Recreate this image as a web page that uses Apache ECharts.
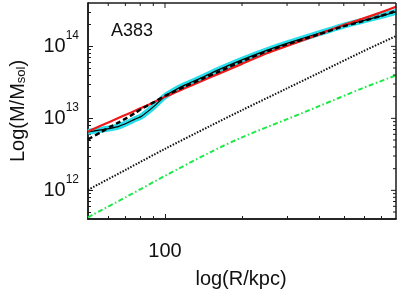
<!DOCTYPE html>
<html><head><meta charset="utf-8">
<script src="https://cdn.jsdelivr.net/npm/echarts@6/dist/echarts.min.js"></script>
<style>html,body{margin:0;padding:0;background:#fff}#c{width:399px;height:298px}</style>
</head><body><div id="c"></div>
<script>
// ---- data (R in kpc, M in solar masses) ----
const obsR  = [50, 56, 61, 66, 71, 76, 81, 91, 100, 110, 120, 140, 160, 200, 250, 300, 400, 490, 590, 690, 800];
const obsM  = [6.49e12, 6.92e12, 7.27e12, 7.74e12, 8.60e12, 9.68e12, 1.073e13, 1.49e13, 2.03e13, 2.50e13, 2.92e13, 3.71e13, 4.64e13, 6.49e13, 8.80e13, 1.10e14, 1.52e14, 1.90e14, 2.26e14, 2.61e14, 3.01e14];
const dashM = [5.11e12, 6.39e12, 7.62e12, 8.80e12, 1.016e13, 1.173e13, 1.355e13, 1.694e13, 2.054e13, 2.41e13, 2.78e13, 3.54e13, 4.35e13, 6.19e13, 8.53e13, 1.066e14, 1.468e14, 1.866e14, 2.22e14, 2.61e14, 3.11e14];
const redM  = [6.59e12, 7.87e12, 9.00e12, 1.016e13, 1.136e13, 1.268e13, 1.404e13, 1.69e13, 1.99e13, 2.30e13, 2.63e13, 3.33e13, 4.08e13, 5.71e13, 8.00e13, 1.016e14, 1.468e14, 1.93e14, 2.41e14, 2.92e14, 3.54e14];
const compR  = [50, 71, 100, 150, 200, 300, 400, 590, 800];
const dotM   = [1.016e12, 1.97e12, 3.77e12, 7.82e12, 1.30e13, 2.61e13, 4.29e13, 8.41e13, 1.39e14];
const greenM = [4.22e11, 8.20e11, 1.59e12, 3.37e12, 5.45e12, 9.74e12, 1.476e13, 2.61e13, 3.95e13];

// ---- axes ----
const xRange = [50, 800];
const yRange = [4e11, 4e14];
const xMajorTicks = [100];
const xTickLabels = ['100'];
const xMinorTicks = [60, 70, 80, 90, 200, 300, 400, 500, 600, 700];
const yMajorTicks = [1e12, 1e13, 1e14];
const yTickExps = ['12', '13', '14'];
const yMinorTicks = [5e11, 6e11, 7e11, 8e11, 9e11, 2e12, 3e12, 4e12, 5e12, 6e12, 7e12, 8e12, 9e12,
                     2e13, 3e13, 4e13, 5e13, 6e13, 7e13, 8e13, 9e13, 2e14, 3e14];
const titleText = 'A383';
const xTitle = 'log(R/kpc)';

(function () {
  const L = Math.log10;
  const FONT = '"Liberation Sans", Arial, sans-serif';
  const AX = '#1a1a1a';
  const pts = (R, M) => R.map((r, i) => [L(r), L(M[i])]);

  function axis(dim, pos, ticks, len, labels) {
    const rng = dim === 'x' ? xRange : yRange;
    const a = {
      type: 'value', position: pos, min: L(rng[0]), max: L(rng[1]),
      splitLine: { show: false },
      axisLine: { show: true, onZero: false, lineStyle: { color: AX, width: 1.5 } },
      axisTick: { show: true, inside: true, length: len, customValues: ticks.map(L),
                  lineStyle: { color: AX, width: 1 } },
      axisLabel: { show: false }, axisPointer: { show: false }
    };
    if (labels) a.axisLabel = labels;
    return a;
  }
  const xLab = {
    show: true, customValues: xMajorTicks.map(L), margin: 22,
    fontFamily: FONT, fontSize: 20, color: '#111',
    formatter: v => { const i = xMajorTicks.findIndex(t => Math.abs(L(t) - v) < 1e-6); return i >= 0 ? xTickLabels[i] : ''; }
  };
  const yLab = {
    show: true, customValues: yMajorTicks.map(L), margin: 9,
    formatter: v => { const i = yMajorTicks.findIndex(t => Math.abs(L(t) - v) < 1e-6); return i >= 0 ? '{b|10}{s|' + yTickExps[i] + '}' : ''; },
    rich: {
      b: { fontFamily: FONT, fontSize: 20, lineHeight: 20, color: '#111', verticalAlign: 'bottom' },
      s: { fontFamily: FONT, fontSize: 12, lineHeight: 12, color: '#111', verticalAlign: 'bottom', padding: [3, 0, 15, 0] }
    }
  };

  const chart = echarts.init(document.getElementById('c'));
  chart.setOption({
    animation: false,
    grid: { left: 88, right: 3, top: 3, bottom: 79 },
    xAxis: [axis('x', 'bottom', xMajorTicks, 5, xLab), axis('x', 'bottom', xMinorTicks, 3)],
    yAxis: [axis('y', 'left', yMajorTicks, 5, yLab), axis('y', 'left', yMinorTicks, 3)],
    series: [
      { type: 'line', data: pts(obsR, obsM), symbol: 'none', smooth: 0.2, lineStyle: { color: '#27dde9', width: 6 }, z: 2 },
      { type: 'line', data: pts(obsR, obsM), symbol: 'none', smooth: 0.2, lineStyle: { color: '#000', width: 1.2 }, z: 3 },
      { type: 'line', data: pts(obsR, redM), symbol: 'none', smooth: 0.2, lineStyle: { color: '#ee1a1a', width: 2.2 }, z: 4 },
      { type: 'line', data: pts(obsR, dashM), symbol: 'none', smooth: 0.2, lineStyle: { color: '#000', width: 2.4, type: [5, 3] }, z: 5 },
      { type: 'line', data: pts(compR, dotM), symbol: 'none', smooth: 0.3, lineStyle: { color: '#111', width: 2, type: [1.5, 1.5] }, z: 4 },
      { type: 'line', data: pts(compR, greenM), symbol: 'none', smooth: 0.3, lineStyle: { color: '#1ee84a', width: 2, type: [5, 2.5, 1.5, 2.5] }, z: 4 }
    ]
  });

  const px = v => chart.convertToPixel({ xAxisIndex: 0 }, L(v));
  const py = v => chart.convertToPixel({ yAxisIndex: 0 }, L(v));
  const fLeft = px(xRange[0]), fRight = px(xRange[1]);
  const fBottom = py(yRange[0]), fTop = py(yRange[1]);
  const frame = [];
  const seg = (x1, y1, x2, y2, w) => frame.push({ type: 'line', silent: true, z: 10,
    shape: { x1: x1, y1: y1, x2: x2, y2: y2 }, style: { stroke: AX, lineWidth: w } });
  seg(fLeft, fTop, fRight, fTop, 1.5);
  seg(fRight, fTop, fRight, fBottom, 1.5);
  xMinorTicks.forEach(v => seg(px(v), fTop, px(v), fTop + 3, 1));
  xMajorTicks.forEach(v => seg(px(v), fTop, px(v), fTop + 5, 1));
  yMinorTicks.forEach(v => seg(fRight - 3, py(v), fRight, py(v), 1));
  yMajorTicks.forEach(v => seg(fRight - 5, py(v), fRight, py(v), 1));

  chart.setOption({
    graphic: frame.concat([
      { type: 'text', left: 111, top: 22, silent: true,
        style: { text: titleText, fontFamily: FONT, fontSize: 18, fill: '#111' } },
      { type: 'text', x: 241, y: 279, silent: true,
        style: { text: xTitle, fontFamily: FONT, fontSize: 20, fill: '#111', align: 'center', verticalAlign: 'middle' } },
      { type: 'text', x: 18, y: 111, rotation: Math.PI / 2, silent: true,
        style: { text: '{a|Log(M/M}{b|sol}{a|)}', align: 'center', verticalAlign: 'middle',
          rich: {
            a: { fontFamily: FONT, fontSize: 20, lineHeight: 20, fill: '#111', verticalAlign: 'top' },
            b: { fontFamily: FONT, fontSize: 13, lineHeight: 13, fill: '#111', verticalAlign: 'bottom', padding: [11, 0, 0, 0] }
          } } }
    ])
  });
})();
</script>
</body></html>
